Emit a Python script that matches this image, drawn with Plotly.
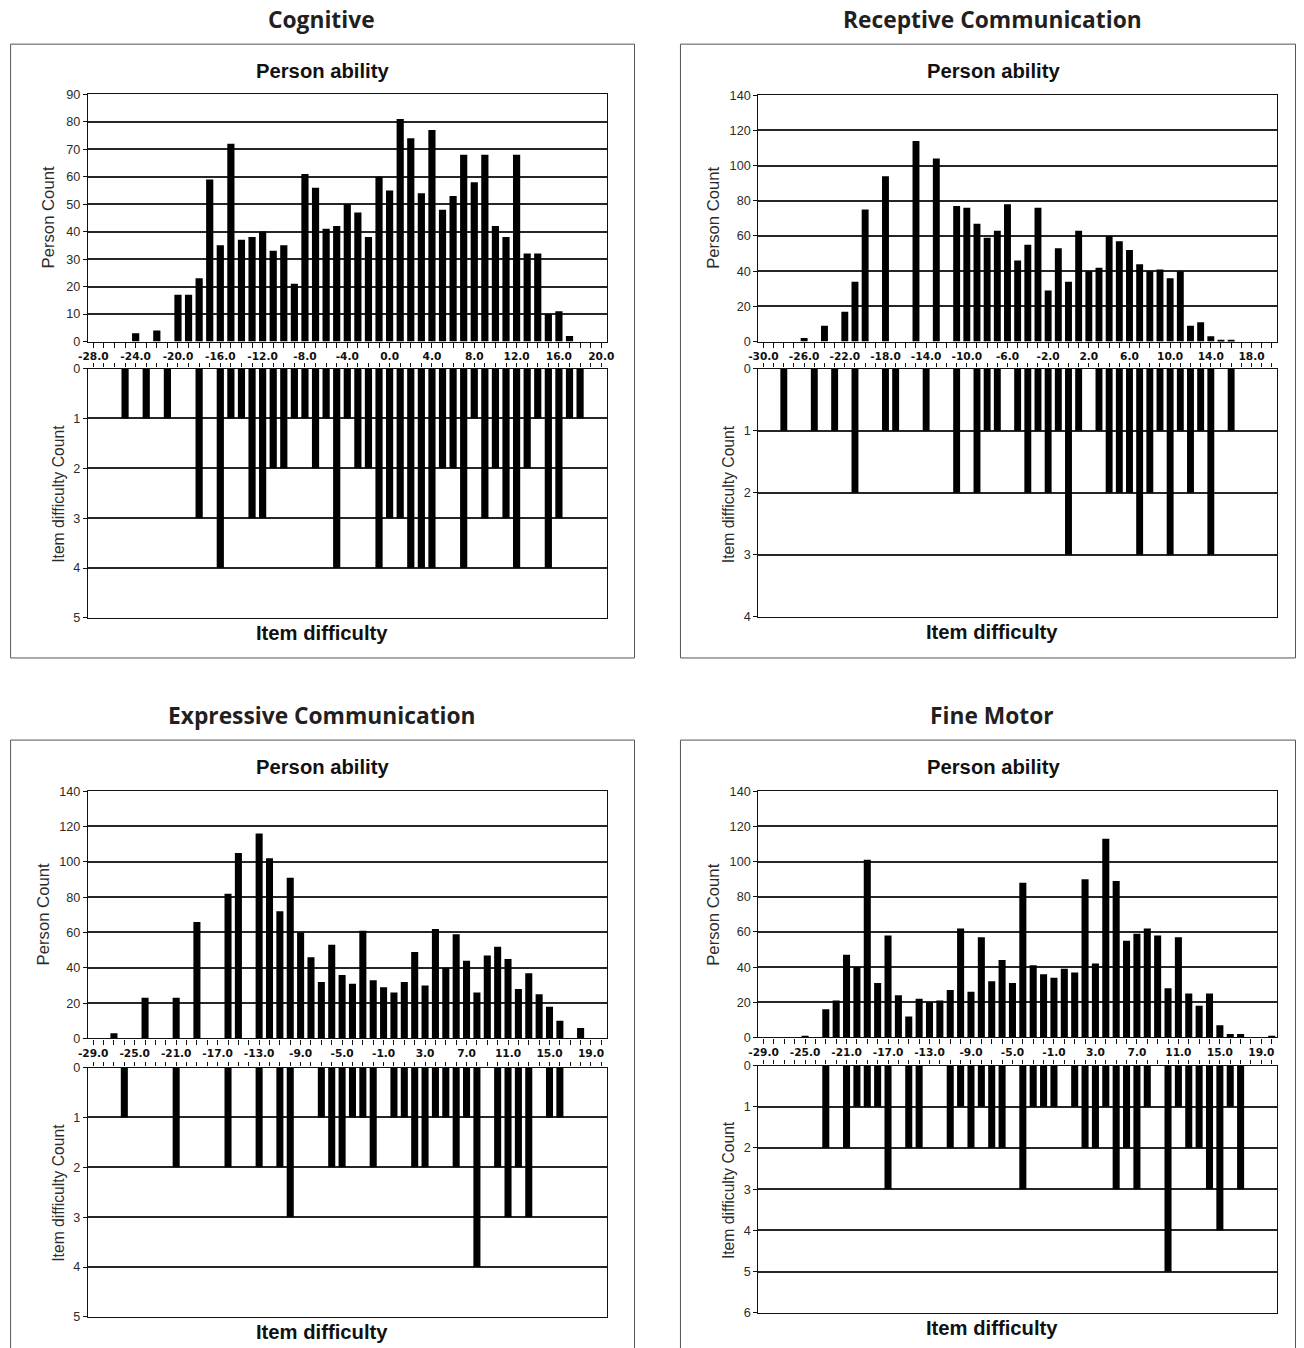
import plotly.graph_objects as go

# Figure size; positions below are written in target-image pixels and mapped
# onto the figure by px()/py(), which account for the page's 8 px body margin
# and the slight down-scaling of the captured page.
W, H = 1304, 1348
PAD = 8
SX = 1321 / 1304
SY = 1364 / 1348
FS = 1.012  # font compensation for the same down-scaling

# ---------------- data ----------------
# Cognitive: ability / difficulty bins from -28 to 20
cog_start, cog_end = -28, 20
cog_person = [0, 0, 0, 0, 3, 0, 4, 0,
              17, 17, 23, 59, 35, 72, 37, 38, 40, 33,
              35, 21, 61, 56, 41, 42, 50, 47, 38, 60,
              55, 81, 74, 54, 77, 48, 53, 68, 58, 68,
              42, 38, 68, 32, 32, 10, 11, 2, 0, 0, 0]
cog_items = [0, 0, 0, 1, 0, 1, 0, 1,
             0, 0, 3, 0, 4, 1, 1, 3, 3, 2,
             2, 1, 1, 2, 1, 4, 1, 2, 2, 4,
             3, 3, 4, 4, 4, 2, 2, 4, 1, 3,
             2, 3, 4, 2, 1, 4, 3, 1, 1, 0, 0]

# Receptive Communication: bins from -30 to 20
rec_start, rec_end = -30, 20
rec_person = [0, 0, 0, 0, 2, 0, 9, 0, 17, 34,
              75, 0, 94, 0, 0, 114, 0, 104, 0, 77,
              76, 67, 59, 63, 78, 46, 55, 76, 29, 53,
              34, 63, 40, 42, 60, 57, 52, 44, 40, 41,
              36, 40, 9, 11, 3, 1, 1, 0, 0, 0, 0]
rec_items = [0, 0, 1, 0, 0, 1, 0, 1, 0, 2,
             0, 0, 1, 1, 0, 0, 1, 0, 0, 2,
             0, 2, 1, 1, 0, 1, 2, 1, 2, 1,
             3, 1, 0, 1, 2, 2, 2, 3, 2, 1,
             3, 1, 2, 1, 3, 0, 1, 0, 0, 0, 0]

# Expressive Communication: bins from -29 to 20
exp_start, exp_end = -29, 20
exp_person = [0, 0, 3, 0, 0, 23, 0, 0, 23, 0,
              66, 0, 0, 82, 105, 0, 116, 102, 72, 91,
              60, 46, 32, 53, 36, 31, 61, 33, 29, 26,
              32, 49, 30, 62, 40, 59, 44, 26, 47, 52,
              45, 28, 37, 25, 18, 10, 0, 6, 0, 0]
exp_items = [0, 0, 0, 1, 0, 0, 0, 0, 2, 0,
             0, 0, 0, 2, 0, 0, 2, 0, 2, 3,
             0, 0, 1, 2, 2, 1, 1, 2, 0, 1,
             1, 2, 2, 1, 1, 2, 1, 4, 0, 2,
             3, 2, 3, 0, 1, 1, 0, 0, 0, 0]

# Fine Motor: bins from -29 to 20
fm_start, fm_end = -29, 20
fm_person = [0, 0, 0, 0, 1, 0, 16, 21, 47, 40,
             101, 31, 58, 24, 12, 22, 20, 21, 27, 62,
             26, 57, 32, 44, 31, 88, 41, 36, 34, 39,
             37, 90, 42, 113, 89, 55, 59, 62, 58, 28,
             57, 25, 18, 25, 7, 2, 2, 0, 0, 1]
fm_items = [0, 0, 0, 0, 0, 0, 2, 0, 2, 1,
            1, 1, 3, 0, 2, 2, 0, 0, 2, 1,
            2, 1, 2, 2, 0, 3, 1, 1, 1, 0,
            1, 2, 2, 1, 3, 2, 3, 1, 0, 5,
            1, 2, 2, 3, 4, 1, 3, 0, 0, 0]

titles = ["Cognitive", "Receptive Communication",
          "Expressive Communication", "Fine Motor"]

# ---------------- layout helpers ----------------
def px(r):
    return min(max((r * SX - PAD) / W, 0.0), (W - 0.5) / W)


def py(r):
    return 1 - (r * SY - PAD) / H


panels = [
    dict(name=titles[0], start=cog_start, end=cog_end, person=cog_person, items=cog_items,
         left=86, right=605, top=(95, 342), bot=(369, 618), pmax=90, pdt=10, imax=5,
         box=(8.5, 45, 633, 658), cx=320, ty=20, pa_y=72, id_y=633,
         yt1=(46, 218), yt2=(57, 494)),
    dict(name=titles[1], start=rec_start, end=rec_end, person=rec_person, items=rec_items,
         left=757, right=1276, top=(96, 342), bot=(369, 617), pmax=140, pdt=20, imax=4,
         box=(679, 45, 1303, 658), cx=991, ty=20, pa_y=72, id_y=632,
         yt1=(712, 218), yt2=(727, 494)),
    dict(name=titles[2], start=exp_start, end=exp_end, person=exp_person, items=exp_items,
         left=86, right=605, top=(791, 1038), bot=(1067, 1316), pmax=140, pdt=20, imax=5,
         box=(8.5, 740, 633, 1380), cx=320, ty=715, pa_y=767, id_y=1331,
         yt1=(41, 914), yt2=(57, 1192)),
    dict(name=titles[3], start=fm_start, end=fm_end, person=fm_person, items=fm_items,
         left=757, right=1276, top=(791, 1037), bot=(1065, 1312), pmax=140, pdt=20, imax=6,
         box=(679, 740, 1303, 1380), cx=991, ty=715, pa_y=767, id_y=1327,
         yt1=(712, 914), yt2=(727, 1189)),
]

INK = "#111111"
GRID = "#262626"
tick_font = dict(family="Liberation Sans, Arial", size=12.5 * FS, color="#2b2b2b")
xlab_font = dict(family="DejaVu Sans", size=10.5 * FS, color=INK, weight="bold")

fig = go.Figure()
layout = dict(width=W, height=H, margin=dict(l=0, r=0, t=0, b=0),
              paper_bgcolor="white", plot_bgcolor="white", showlegend=False,
              shapes=[], annotations=[])

ax = 0
for p in panels:
    xs = list(range(p["start"], p["end"] + 1))
    xr = [p["start"] - 0.5, p["end"] + 0.5]
    major = list(range(p["start"], p["end"] + 1, 4))
    xdom = [px(p["left"]), px(p["right"])]

    # upper chart: person ability
    ax += 1
    xa, ya = ("x", "y") if ax == 1 else (f"x{ax}", f"y{ax}")
    fig.add_trace(go.Bar(x=xs, y=p["person"], xaxis=xa, yaxis=ya, width=0.68,
                         marker=dict(color="black", line=dict(width=0))))
    layout["xaxis" if ax == 1 else f"xaxis{ax}"] = dict(
        domain=xdom, anchor=ya, range=xr, showgrid=False, zeroline=False,
        showline=True, linecolor=INK, linewidth=1.3, mirror=True,
        tickmode="array", tickvals=major, ticktext=[f"{v:.1f}" for v in major],
        ticks="outside", ticklen=5, tickcolor=INK, tickfont=xlab_font,
        minor=dict(tickmode="array", tickvals=xs, ticks="outside", ticklen=5,
                   tickcolor=INK, showgrid=False))
    layout["yaxis" if ax == 1 else f"yaxis{ax}"] = dict(
        domain=[py(p["top"][1]), py(p["top"][0])], anchor=xa,
        range=[0, p["pmax"]], dtick=p["pdt"], tick0=0,
        showgrid=True, gridcolor=GRID, gridwidth=1.5, zeroline=False,
        showline=True, linecolor=INK, linewidth=1.3, mirror=True,
        ticks="outside", ticklen=4, tickcolor=INK, tickfont=tick_font)

    # lower chart: item difficulty (inverted)
    ax += 1
    xa2, ya2 = f"x{ax}", f"y{ax}"
    fig.add_trace(go.Bar(x=xs, y=p["items"], xaxis=xa2, yaxis=ya2, width=0.68,
                         marker=dict(color="black", line=dict(width=0))))
    layout[f"xaxis{ax}"] = dict(
        domain=xdom, anchor=ya2, side="top", range=xr, showgrid=False, zeroline=False,
        showline=True, linecolor=INK, linewidth=1.3, mirror=True,
        showticklabels=False, tickmode="array", tickvals=xs,
        ticks="outside", ticklen=4, tickcolor=INK)
    layout[f"yaxis{ax}"] = dict(
        domain=[py(p["bot"][1]), py(p["bot"][0])], anchor=xa2,
        range=[p["imax"], 0], dtick=1, tick0=0,
        showgrid=True, gridcolor=GRID, gridwidth=1.5, zeroline=False,
        showline=True, linecolor=INK, linewidth=1.3, mirror=True,
        ticks="outside", ticklen=4, tickcolor=INK, tickfont=tick_font)

    # outer frame of the panel
    x0, y0, x1, y1 = p["box"]
    layout["shapes"].append(dict(type="rect", xref="paper", yref="paper",
                                 x0=px(x0), x1=px(x1), y0=py(y1), y1=py(y0),
                                 line=dict(color="#555555", width=1)))

    # texts
    layout["annotations"] += [
        dict(text=f"<b>{p['name']}</b>", x=px(p["cx"]), y=py(p["ty"]),
             xref="paper", yref="paper", showarrow=False, xanchor="center", yanchor="middle",
             font=dict(family="Open Sans", size=22.5 * FS, color="#231f20")),
        dict(text="<b>Person ability</b>", x=px(p["cx"] + 1), y=py(p["pa_y"]),
             xref="paper", yref="paper", showarrow=False, xanchor="center", yanchor="middle",
             font=dict(family="Liberation Sans, Arial", size=20 * FS, color=INK)),
        dict(text="<b>Item difficulty</b>", x=px(p["cx"]), y=py(p["id_y"]),
             xref="paper", yref="paper", showarrow=False, xanchor="center", yanchor="middle",
             font=dict(family="Liberation Sans, Arial", size=20 * FS, color=INK)),
        dict(text="Person Count", x=px(p["yt1"][0]), y=py(p["yt1"][1]), textangle=-90,
             xref="paper", yref="paper", showarrow=False, xanchor="center", yanchor="middle",
             font=dict(family="Liberation Sans, Arial", size=16.5 * FS, color="#2b2b2b")),
        dict(text="Item difficulty Count", x=px(p["yt2"][0]), y=py(p["yt2"][1]), textangle=-90,
             xref="paper", yref="paper", showarrow=False, xanchor="center", yanchor="middle",
             font=dict(family="Liberation Sans, Arial", size=15.5 * FS, color="#2b2b2b")),
    ]

fig.update_layout(**layout)
fig.write_html("out.html")
